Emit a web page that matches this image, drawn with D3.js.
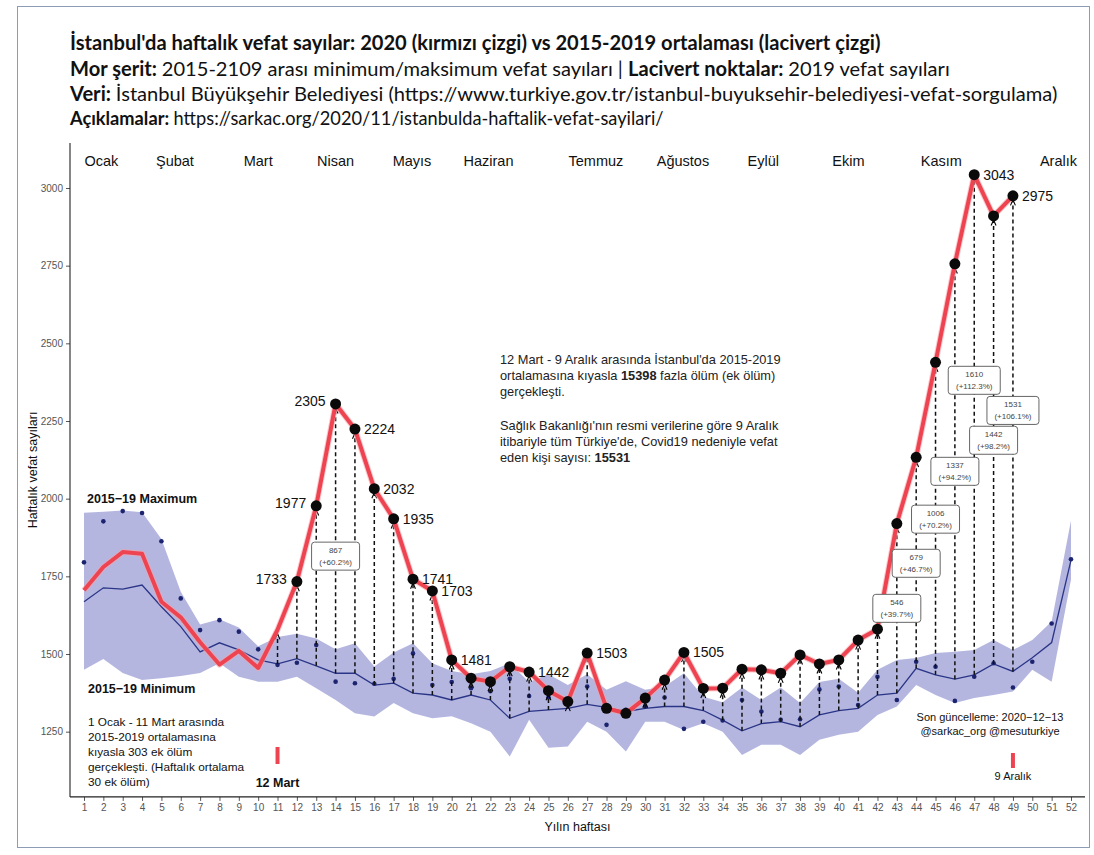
<!DOCTYPE html>
<html><head><meta charset="utf-8">
<script src="https://cdn.jsdelivr.net/npm/d3@7"></script>
<style>body{margin:0;background:#fff}svg{display:block}</style>
</head><body>
<svg id="c" width="1094" height="855"></svg>
<script>
// ---------------- DATA ----------------
const weeks = d3.range(1, 53);
const deaths2020 = [1705,1780,1828,1823,1668,1618,1538,1466,1510,1455,1578,1733,1977,2305,2224,2032,1935,1741,1703,1481,
  1422,1411,1459,1442,1382,1347,1503,1325,1309,1358,1416,1505,1389,1390,1451,1449,1438,1497,1468,1481,
  1545,1580,1920,2133,2439,2756,3043,2910,2975];
const avg1519 = [1668,1713,1709,1722,1652,1588,1507,1536,1513,1481,1468,1485,1462,1438,1438,1400,1406,1374,1368,1352,
  1368,1352,1293,1315,1320,1325,1338,1328,1315,1325,1331,1331,1318,1287,1253,1276,1282,1266,1304,1318,
  1325,1368,1374,1454,1433,1419,1433,1468,1444,1488,1537,1802];
const min1519 = [1449,1484,1439,1416,1422,1429,1439,1470,1427,1411,1411,1427,1390,1352,1309,1299,1342,1309,1293,1300,
  1277,1250,1170,1288,1198,1202,1282,1250,1186,1282,1282,1255,1277,1250,1175,1208,1208,1175,1224,1240,
  1250,1304,1331,1400,1368,1342,1358,1368,1379,1449,1411,1740];
const max1519 = [1955,1958,1962,1956,1870,1700,1595,1612,1585,1525,1555,1565,1550,1515,1535,1460,1505,1535,1470,1445,
  1435,1445,1470,1410,1435,1400,1435,1385,1412,1385,1395,1438,1362,1345,1392,1352,1392,1342,1410,1420,
  1375,1449,1481,1487,1503,1507,1513,1545,1513,1545,1605,1930];
const deaths2019 = [1795,1927,1960,1954,1863,1679,1577,1609,1572,1515,1465,1472,1529,1411,1406,1404,1420,1502,1400,1410,
  1390,1380,1420,1365,1360,1350,1395,1272,1320,1331,1360,1259,1282,1286,1352,1315,1288,1290,1386,1395,
  1336,1427,1352,1475,1459,1349,1427,1470,1392,1475,1598,1805];
const monthNames = ["Ocak","Şubat","Mart","Nisan","Mayıs","Haziran","Temmuz","Ağustos","Eylül","Ekim","Kasım","Aralık"];
const monthWeeks = [1.9,5.7,10.0,14.0,17.95,21.9,27.45,31.95,36.1,40.5,45.3,51.35];
const yTicks = [1250,1500,1750,2000,2250,2500,2750,3000];
const dotStartWeek = 12;
const arrowStartWeek = 11;
const labelWeeksRight = [15,16,17,18,19,20,24,27,32,47,49];
const labelWeeksLeft = [12,13,14];
const boxWeeks = [14,43,44,45,46,47,48,49];
const boxLines1 = ["867","546","679","1006","1337","1610","1442","1531"];
const boxLines2 = ["(+60.2%)","(+39.7%)","(+46.7%)","(+70.2%)","(+94.2%)","(+112.3%)","(+98.2%)","(+106.1%)"];
const boxValues = [1815,1647,1792,1934,2088,2381,2188,2284];
const titleLines = [
  [["İstanbul'da haftalık vefat sayılar: 2020 (kırmızı çizgi) vs 2015-2019 ortalaması (lacivert çizgi)", true]],
  [["Mor şerit: ", true],["2015-2109 arası minimum/maksimum vefat sayıları | ", false],["Lacivert noktalar: ", true],["2019 vefat sayıları", false]],
  [["Veri: ", true],["İstanbul Büyükşehir Belediyesi (https://www.turkiye.gov.tr/istanbul-buyuksehir-belediyesi-vefat-sorgulama)", false]],
  [["Açıklamalar: ", true],["https://sarkac.org/2020/11/istanbulda-haftalik-vefat-sayilari/", false]]
];
const leftNote = ["1 Ocak - 11 Mart arasında","2015-2019 ortalamasına","kıyasla 303 ek ölüm","gerçekleşti. (Haftalık ortalama","30 ek ölüm)"];
const midNote1 = [[["12 Mart - 9 Aralık arasında İstanbul'da 2015-2019",false]],[["ortalamasına kıyasla ",false],["15398",true],[" fazla ölüm (ek ölüm)",false]],[["gerçekleşti.",false]]];
const midNote2 = [[["Sağlık Bakanlığı'nın resmi verilerine göre 9 Aralık",false]],[["itibariyle tüm Türkiye'de, Covid19 nedeniyle vefat",false]],[["eden kişi sayısı: ",false],["15531",true]]];

// ---------------- DRAW ----------------
const svg = d3.select("#c");
const F = "'Liberation Sans', Arial, sans-serif";
const x = d3.scaleLinear().domain([1, 52]).range([84, 1071]);
const y = d3.scaleLinear().domain([1500, 3000]).range([654, 188]);

// frame
svg.append("rect").attr("x",17.5).attr("y",6.5).attr("width",1072).attr("height",841)
  .attr("fill","none").attr("stroke","#8d9cb4").attr("stroke-width",1);

// titles
const titleY = [50, 76, 101, 125];
const titleW = [811, 880, 988, 594];
const titleFS = [17, 17, 17, 14.5];
titleLines.forEach((parts, i) => {
  const t = svg.append("text").attr("x", 70).attr("y", titleY[i])
    .attr("font-family", "Lato, 'Open Sans', sans-serif").attr("font-size", titleFS[i]).attr("fill", "#111");
  parts.forEach(p => t.append("tspan").text(p[0]).attr("font-weight", p[1] ? "bold" : "normal"));
  const w = t.node().getComputedTextLength();
  t.attr("font-size", titleFS[i] * titleW[i] / w);
});

// band
const area = d3.area().x((d, i) => x(weeks[i])).y0((d, i) => y(min1519[i])).y1((d, i) => y(max1519[i]));
svg.append("path").datum(weeks).attr("d", area).attr("fill", "#b4b6df");

// avg line
const line = d3.line().x((d, i) => x(weeks[i])).y(d => y(d));
svg.append("path").datum(avg1519).attr("d", line).attr("fill","none").attr("stroke","#2a3587").attr("stroke-width",1.3);

// 2019 dots
svg.append("g").selectAll("circle").data(deaths2019).join("circle")
  .attr("cx", (d, i) => x(weeks[i])).attr("cy", d => y(d)).attr("r", 2.3).attr("fill", "#1c2470");

// arrow marker
svg.append("defs").append("marker").attr("id","ah").attr("viewBox","0 0 10 10")
  .attr("refX",9).attr("refY",5).attr("markerWidth",7).attr("markerHeight",7)
  .attr("markerUnits","userSpaceOnUse").attr("orient","auto")
  .append("path").attr("d","M1,1.5 L9,5 L1,8.5").attr("fill","none").attr("stroke","#000").attr("stroke-width",1.6);

// arrows
const arrowData = deaths2020.map((d, i) => ({w: weeks[i], v: d, a: avg1519[i]})).filter(d => d.w >= arrowStartWeek);
svg.append("g").selectAll("line").data(arrowData).join("line")
  .attr("x1", d => x(d.w)).attr("x2", d => x(d.w))
  .attr("y1", d => y(d.a)).attr("y2", d => y(d.v) + (d.v > d.a ? 4 : -4))
  .attr("stroke","#111").attr("stroke-width",1.5).attr("stroke-dasharray","4,3")
  .attr("marker-end","url(#ah)");

// red line
svg.append("path").datum(deaths2020).attr("d", line).attr("fill","none")
  .attr("stroke","#f6a3a8").attr("stroke-width",6).attr("stroke-linejoin","round").attr("opacity",0.6);
svg.append("path").datum(deaths2020).attr("d", line).attr("fill","none")
  .attr("stroke","#ee4452").attr("stroke-width",4).attr("stroke-linejoin","round");

// black dots
svg.append("g").selectAll("circle").data(deaths2020.map((d,i)=>({w:weeks[i],v:d})).filter(d => d.w >= dotStartWeek)).join("circle")
  .attr("cx", d => x(d.w)).attr("cy", d => y(d.v)).attr("r", 5.5).attr("fill", "#0a0a0a");

// value labels
svg.append("g").selectAll("text").data(labelWeeksRight).join("text")
  .attr("x", w => x(w) + 9).attr("y", w => y(deaths2020[w-1]) + 5)
  .attr("font-family", F).attr("font-size", 14).attr("fill", "#111").text(w => deaths2020[w-1]);
svg.append("g").selectAll("text").data(labelWeeksLeft).join("text")
  .attr("x", w => x(w) - 10).attr("y", w => y(deaths2020[w-1]) + 2)
  .attr("text-anchor","end").attr("font-family", F).attr("font-size", 14).attr("fill", "#111").text(w => deaths2020[w-1]);

// boxes
const bg = svg.append("g").selectAll("g").data(boxWeeks).join("g")
  .attr("transform", (w, i) => `translate(${x(w)},${y(boxValues[i])})`);
bg.append("rect").attr("x", (w,i) => boxLines2[i].length > 8 ? -26 : -24).attr("y", -14)
  .attr("width", (w,i) => boxLines2[i].length > 8 ? 52 : 48).attr("height", 28).attr("rx", 3)
  .attr("fill","#fff").attr("stroke","#666").attr("stroke-width",1);
bg.append("text").attr("y", -3).attr("text-anchor","middle").attr("font-family",F).attr("font-size",8)
  .attr("fill","#444").text((w,i) => boxLines1[i]);
bg.append("text").attr("y", 9).attr("text-anchor","middle").attr("font-family",F).attr("font-size",8)
  .attr("fill","#444").text((w,i) => boxLines2[i]);

// axes
const axY = svg.append("g").attr("transform","translate(70,0)")
  .call(d3.axisLeft(y).tickValues(yTicks).tickSize(4).tickPadding(3).tickFormat(d3.format("d")));
axY.select(".domain").remove();
axY.selectAll("text").attr("font-family",F).attr("font-size",10).attr("fill","#555");
axY.selectAll("line").attr("stroke","#555");
svg.append("line").attr("x1",70).attr("x2",70).attr("y1",143).attr("y2",y(1040)).attr("stroke","#222").attr("stroke-width",1.1);

const axX = svg.append("g").attr("transform",`translate(0,${y(1040)})`)
  .call(d3.axisBottom(x).tickValues(weeks).tickSize(4).tickPadding(3).tickFormat(d3.format("d")));
axX.select(".domain").remove();
axX.selectAll("text").attr("font-family",F).attr("font-size",10).attr("fill","#555");
axX.selectAll("line").attr("stroke","#555");
svg.append("line").attr("x1",70).attr("x2",1085).attr("y1",y(1040)).attr("y2",y(1040)).attr("stroke","#222").attr("stroke-width",1.1);

svg.append("text").attr("x", x(26.5)).attr("y", 831).attr("text-anchor","middle")
  .attr("font-family",F).attr("font-size",12.5).attr("fill","#111").text("Yılın haftası");
svg.append("text").attr("transform","translate(37,470) rotate(-90)").attr("text-anchor","middle")
  .attr("font-family",F).attr("font-size",12.5).attr("fill","#111").text("Haftalık vefat sayıları");

// month labels
svg.append("g").selectAll("text").data(monthNames).join("text")
  .attr("x", (m,i) => x(monthWeeks[i])).attr("y", 166).attr("text-anchor","middle")
  .attr("font-family",F).attr("font-size",14.5).attr("fill","#111").text(m => m);

// band labels
svg.append("text").attr("x",87).attr("y",503).attr("font-family",F).attr("font-size",12.5).attr("font-weight","bold")
  .attr("fill","#111").text("2015−19 Maximum");
svg.append("text").attr("x",88).attr("y",693).attr("font-family",F).attr("font-size",12.5).attr("font-weight","bold")
  .attr("fill","#111").text("2015−19 Minimum");

// left note
svg.append("g").selectAll("text").data(leftNote).join("text")
  .attr("x",88).attr("y",(d,i) => 726 + i*15).attr("font-family",F).attr("font-size",11.8).attr("fill","#111").text(d => d);

// 12 Mart / 9 Aralık markers
svg.append("rect").attr("x", x(11) - 2).attr("y", 747).attr("width",4).attr("height",17).attr("fill","#ee4452");
svg.append("text").attr("x", x(11)).attr("y", 787).attr("text-anchor","middle").attr("font-family",F)
  .attr("font-size",12.5).attr("font-weight","bold").attr("fill","#111").text("12 Mart");
svg.append("rect").attr("x", x(49) - 2).attr("y", 753).attr("width",4).attr("height",15).attr("fill","#ee4452");
svg.append("text").attr("x", x(49)).attr("y", 780).attr("text-anchor","middle").attr("font-family",F)
  .attr("font-size",11).attr("fill","#111").text("9 Aralık");

// update note
svg.append("text").attr("x", 990).attr("y", 721).attr("text-anchor","middle").attr("font-family",F)
  .attr("font-size",11).attr("fill","#111").text("Son güncelleme: 2020−12−13");
svg.append("text").attr("x", 990).attr("y", 735).attr("text-anchor","middle").attr("font-family",F)
  .attr("font-size",11).attr("fill","#111").text("@sarkac_org @mesuturkiye");

// middle note
function richLines(lines, y0) {
  lines.forEach((parts, i) => {
    const t = svg.append("text").attr("x", 500).attr("y", y0 + i*16).attr("font-family",F)
      .attr("font-size",12.8).attr("fill","#222");
    parts.forEach(p => t.append("tspan").text(p[0]).attr("font-weight", p[1] ? "bold" : "normal"));
  });
}
richLines(midNote1, 364);
richLines(midNote2, 430);
</script>
</body></html>
